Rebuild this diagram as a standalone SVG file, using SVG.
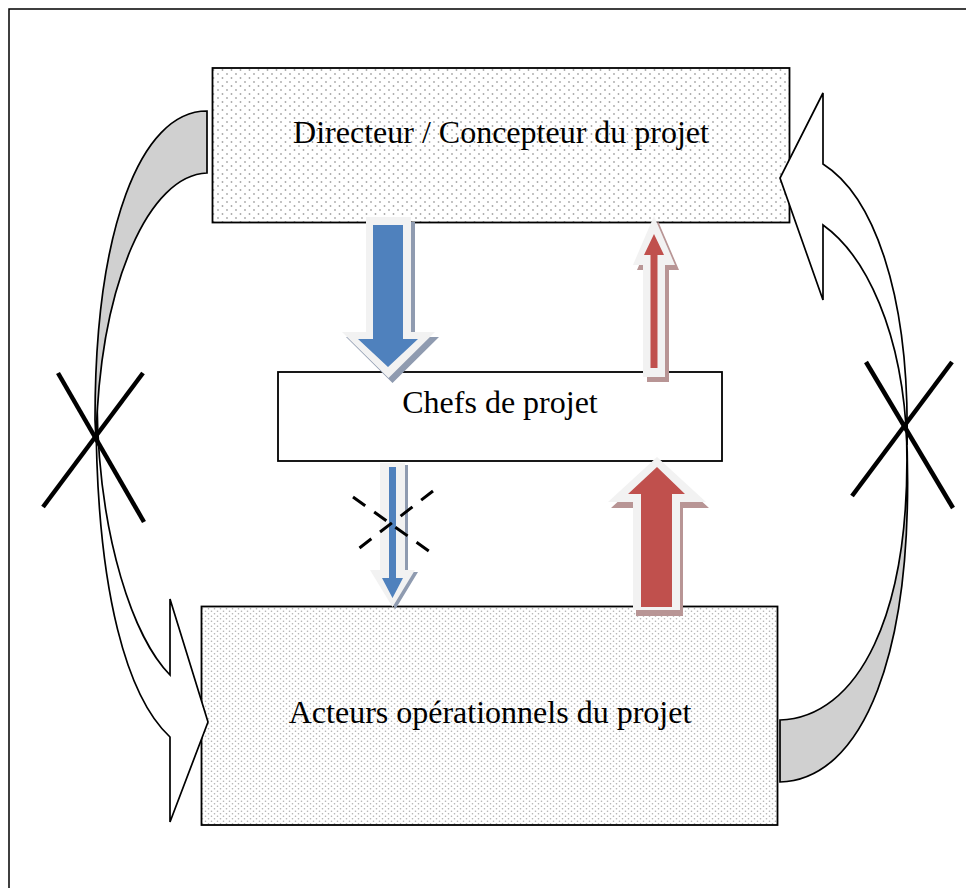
<svg xmlns="http://www.w3.org/2000/svg" width="966" height="888" viewBox="0 0 966 888">
<style>
.box{stroke:#000;stroke-width:1.8}
.lbl{font-family:"Liberation Serif","Times New Roman",serif;font-size:32px;fill:#000;text-anchor:middle}
.curve{stroke:#000;stroke-width:1.7;stroke-linejoin:miter}
.cross{stroke:#000;stroke-width:4.5;fill:none}
.halo{fill:#f2f2f2}
.shb{fill:#8f9bb0}
.shr{fill:#b89595}
.blue{fill:#4f81bd}
.red{fill:#c0504d}
</style>
<defs>
<pattern id="dotsA" width="9" height="8" patternUnits="userSpaceOnUse">
<rect width="9" height="8" fill="#fff"/>
<circle cx="2" cy="2" r="0.9" fill="#a8a8a8"/>
<circle cx="6.5" cy="6" r="0.9" fill="#a8a8a8"/>
</pattern>
<pattern id="dotsB" width="6" height="5" patternUnits="userSpaceOnUse">
<rect width="6" height="5" fill="#fff"/>
<circle cx="1.5" cy="1.2" r="0.8" fill="#b0b0b0"/>
<circle cx="4.5" cy="3.7" r="0.8" fill="#b0b0b0"/>
</pattern>
</defs>
<rect x="0" y="0" width="966" height="888" fill="#fff"/>
<rect x="9" y="9" width="980" height="900" fill="none" stroke="#000" stroke-width="1.5"/>

<g id="node-directeur">
<rect class="box" x="212.5" y="68" width="577" height="154.5" fill="url(#dotsA)"/>
<text class="lbl" x="501" y="143">Directeur / Concepteur du projet</text>
</g>
<g id="node-chefs">
<rect class="box" x="278" y="372" width="444" height="89" fill="#fff"/>
<text class="lbl" x="500" y="413">Chefs de projet</text>
</g>
<g id="node-acteurs">
<rect class="box" x="201.5" y="606.5" width="576" height="218.5" fill="url(#dotsB)"/>
<text class="lbl" x="490" y="723">Acteurs opérationnels du projet</text>
</g>

<g id="connectors">
<path class="curve" fill="#fff" d="M96,400 C95,600 130,700 170,737 L170,822 L208,722 L170,599 L170,675 C135,640 98,540 97,400 Z"/>
<path class="curve" fill="#d0d0d0" d="M207,111 C140,111 95,230 95,420 L96,440 C100,280 150,175 207,173 Z"/>
<path class="curve" fill="#fff" d="M907,445 C910,290 872,195 823,164 L823,93 L780,178 L823,300 L823,225 C865,255 903,330 907,445 Z"/>
<path class="curve" fill="#d0d0d0" d="M906,420 C918,660 860,780 780,782 L780,720 C855,718 915,620 906,420 Z"/>

<g id="arrow-blue-big">
<polygon class="shb" transform="translate(4,5)" points="366,217 411,217 411,332 435,332 388.5,378 342,332 366,332"/>
<polygon class="halo" points="366,217 411,217 411,332 435,332 388.5,378 342,332 366,332"/>
<polygon class="blue" points="373,225 403,225 403,339 418,339 388,367 358,339 373,339"/>
</g>
<g id="arrow-red-small">
<polygon class="shr" transform="translate(4,5)" points="643,377 643,265 633,265 654,216 675,265 665,265 665,377"/>
<polygon class="halo" points="643,377 643,265 633,265 654,216 675,265 665,265 665,377"/>
<polygon class="red" points="650.5,368 650.5,255 644,255 654,234 664,255 657.5,255 657.5,368"/>
</g>
<g id="arrow-blue-small">
<polygon class="shb" transform="translate(3,2)" points="380,463 405,463 405,570 415,570 392.5,607 370,570 380,570"/>
<polygon class="halo" points="380,463 405,463 405,570 415,570 392.5,607 370,570 380,570"/>
<polygon class="blue" points="389,467 396,467 396,578 403,578 392.5,598 382,578 389,578"/>
</g>
<g id="arrow-red-big">
<polygon class="shr" transform="translate(3,6)" points="633,610 633,502 608,502 657,457 706,502 680,502 680,610"/>
<polygon class="halo" points="633,610 633,502 608,502 657,457 706,502 680,502 680,610"/>
<polygon class="red" points="641,607 641,494 628,494 657,467 685,494 672,494 672,607"/>
</g>
</g>

<g id="marks">
<line class="cross" x1="58" y1="373" x2="144" y2="522"/>
<line class="cross" x1="143" y1="373" x2="43" y2="507"/>
<line class="cross" x1="866" y1="362" x2="953" y2="508"/>
<line class="cross" x1="952" y1="362" x2="852" y2="496"/>
<line stroke="#000" stroke-width="3" stroke-dasharray="15 11" x1="353" y1="497" x2="433" y2="554"/>
<line stroke="#000" stroke-width="3" stroke-dasharray="15 11" x1="433" y1="491" x2="353" y2="553"/>
</g>
</svg>
